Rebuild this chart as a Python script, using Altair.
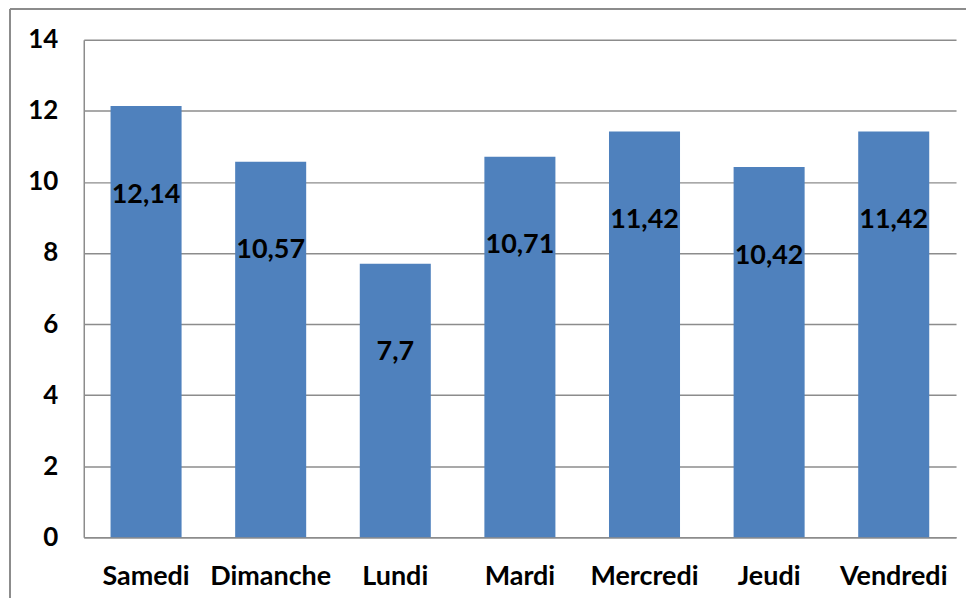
import altair as alt
import pandas as pd

days = ["Samedi", "Dimanche", "Lundi", "Mardi", "Mercredi", "Jeudi", "Vendredi"]
values = [12.14, 10.57, 7.7, 10.71, 11.42, 10.42, 11.42]
labels = ["12,14", "10,57", "7,7", "10,71", "11,42", "10,42", "11,42"]
y_ticks = [0, 2, 4, 6, 8, 10, 12, 14]

df = pd.DataFrame({"day": days, "value": values, "label": labels})

FONT = "Lato"
W, H = 875, 499

x = alt.X("day:N", sort=days, title=None,
          scale=alt.Scale(paddingInner=0.43, paddingOuter=0.215),
          axis=alt.Axis(labelAngle=0, labelFont=FONT, labelFontSize=27, labelFontWeight="bold",
                        labelColor="black", labelPadding=26, ticks=False, domainColor="#8c8c8c",
                        domainWidth=1.5, grid=False))
y = alt.Y("value:Q", title=None,
          scale=alt.Scale(domain=[0, 14], nice=False),
          axis=alt.Axis(values=y_ticks, labelFont=FONT, labelFontSize=26, labelFontWeight="bold",
                        labelColor="black", labelPadding=26, ticks=False, domainColor="#8c8c8c",
                        domainWidth=1.5, gridColor="#8c8c8c", gridWidth=1.5))

bars = alt.Chart(df).mark_bar(color="#4F81BD").encode(x=x, y=y)

text = alt.Chart(df).mark_text(font=FONT, fontSize=27, fontWeight="bold", color="black",
                               baseline="middle", dy=89).encode(
    x=alt.X("day:N", sort=days), y=alt.Y("value:Q"), text="label:N")

frame_top = alt.Chart(df).mark_rule(color="#8c8c8c", strokeWidth=2).encode(
    x=alt.value(-74), x2=alt.value(W + 40), y=alt.value(-31))
frame_left = alt.Chart(df).mark_rule(color="#8c8c8c", strokeWidth=2).encode(
    x=alt.value(-74), y=alt.value(-31), y2=alt.value(H + 80))

chart = (frame_top + frame_left + bars + text).properties(
    width=W, height=H,
    autosize=alt.AutoSizeParams(type="none"),
    padding={"left": 76, "top": 31, "right": 10, "bottom": 60},
).configure_view(stroke=None).configure_axis(gridColor="#8c8c8c")

chart.save("out.html", embed_options={"renderer": "svg", "actions": False})
